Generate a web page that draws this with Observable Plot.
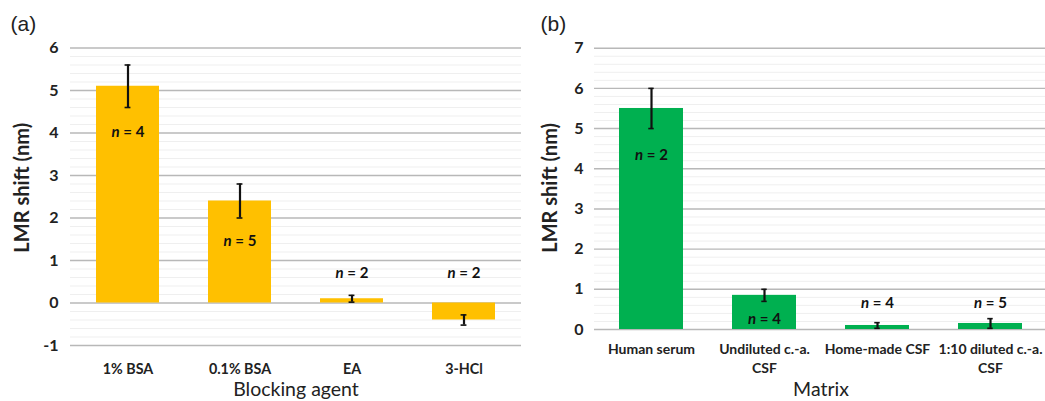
<!DOCTYPE html>
<html>
<head>
<meta charset="utf-8">
<script src="https://cdn.jsdelivr.net/npm/d3@7"></script>
<script src="https://cdn.jsdelivr.net/npm/@observablehq/plot@0.6"></script>
<style>
  html, body { margin: 0; padding: 0; background: #fff; overflow: hidden; }
  #wrap { display: flex; width: 1050px; height: 401px; }
  #wrap svg { overflow: visible; }
</style>
</head>
<body>
<div id="wrap"><div id="a"></div><div id="b"></div></div>
<script>
// ---- Panel (a): Blocking agent ----
const aCategories = ["1% BSA", "0.1% BSA", "EA", "3-HCl"];
const aValues = [5.1, 2.4, 0.1, -0.4];
const aErrors = [0.5, 0.4, 0.08, 0.12];
const aN = [4, 5, 2, 2];
const aNLabelAt = [4.03, 1.45, 0.69, 0.69];
const aTicks = [-1, 0, 1, 2, 3, 4, 5, 6];

// ---- Panel (b): Matrix ----
const bCategories = ["Human serum", "Undiluted c.-a.\nCSF", "Home-made CSF", "1:10 diluted c.-a.\nCSF"];
const bValues = [5.5, 0.85, 0.1, 0.15];
const bErrors = [0.5, 0.15, 0.07, 0.12];
const bN = [2, 4, 4, 5];
const bNLabelAt = [4.35, 0.25, 0.66, 0.66];
const bTicks = [0, 1, 2, 3, 4, 5, 6, 7];

const yTitle = "LMR shift (nm)";

function rows(cats, vals, errs, ns, at) {
  return cats.map((c, i) => ({cat: c, v: vals[i], lo: vals[i] - errs[i], hi: vals[i] + errs[i], n: ns[i], at: at[i]}));
}

function panel(opts) {
  const data = rows(opts.cats, opts.vals, opts.errs, opts.ns, opts.at);
  const [y0, y1] = opts.ydomain;
  const minor = d3.range(Math.round(y0 * 5), Math.round(y1 * 5) + 1).map(k => k / 5).filter(v => Math.abs(v - Math.round(v)) > 1e-6);
  const plotW = opts.width - opts.marginLeft - opts.marginRight;
  const step = plotW / opts.cats.length;
  const bw = step * (1 - opts.pad);
  const capInset = (bw - 6) / 2;
  const svg = Plot.plot({
    width: opts.width,
    height: 401,
    marginLeft: opts.marginLeft,
    marginRight: opts.marginRight,
    marginTop: opts.marginTop,
    marginBottom: opts.marginBottom,
    style: {fontFamily: "Lato, 'Open Sans', sans-serif", background: "white", color: "#222"},
    x: {domain: opts.cats, paddingInner: opts.pad, paddingOuter: opts.pad / 2, label: null},
    y: {domain: opts.ydomain, label: null},
    marks: [
      Plot.ruleY(minor, {stroke: "#efefef", strokeWidth: 1}),
      Plot.ruleY(opts.ticks, {stroke: "#b8b8b8", strokeWidth: 1.4}),
      Plot.barY(data, {x: "cat", y: "v", fill: opts.color}),
      Plot.ruleX(data, {x: "cat", y1: "lo", y2: "hi", stroke: "#111", strokeWidth: 2.2}),
      Plot.tickY(data, {x: "cat", y: "lo", stroke: "#111", strokeWidth: 1.6, insetLeft: capInset, insetRight: capInset}),
      Plot.tickY(data, {x: "cat", y: "hi", stroke: "#111", strokeWidth: 1.6, insetLeft: capInset, insetRight: capInset}),
      Plot.text(data, {x: "cat", y: "at", text: d => `n = ${d.n}`, fontSize: 15, fontWeight: "bold", fill: "#111"}),
      Plot.axisY(opts.ticks, {tickSize: 0, tickPadding: opts.yPad, fontSize: 16, fontWeight: "bold", label: null, tickFormat: d => String(d)}),
      Plot.axisX({tickSize: 0, tickPadding: opts.xPad, fontSize: opts.xFont, fontWeight: "bold", lineHeight: 1.3, label: null}),
      Plot.text([yTitle], {frameAnchor: "left", rotate: -90, textAnchor: "middle", lineAnchor: "middle", dx: opts.titleDx, dy: opts.titleDy, fontSize: 20, fontWeight: "bold", fill: "#222"}),
      Plot.text([opts.tag], {frameAnchor: "top-left", textAnchor: "start", lineAnchor: "middle", dx: opts.tagDx, dy: opts.tagDy, fontSize: 21, fontFamily: "'Liberation Sans', Arial, sans-serif", fill: "#222"}),
      Plot.text([opts.xTitle], {frameAnchor: "bottom", textAnchor: "middle", lineAnchor: "bottom", dy: opts.xTitleDy, fontSize: 19.5, fill: "#222"})
    ]
  });
  // italic "n" in the count labels
  d3.select(svg).selectAll("text").filter(function() { return /^n = \d+$/.test(this.textContent); }).each(function() {
    const t = this.textContent;
    this.textContent = "";
    d3.select(this).append("tspan").attr("font-style", "italic").text("n");
    d3.select(this).append("tspan").text(t.slice(1));
  });
  return svg;
}

document.getElementById("a").appendChild(panel({
  cats: aCategories, vals: aValues, errs: aErrors, ns: aN, at: aNLabelAt, ticks: aTicks,
  ydomain: [-1, 6], color: "#FFC000", width: 530, marginLeft: 70, marginRight: 9,
  marginTop: 47.5, marginBottom: 56, pad: 0.44, yPad: 12, xPad: 15, xFont: 14.3,
  titleDx: -48, titleDy: -9, tag: "(a)", tagDx: -60, tagDy: -24, xTitle: "Blocking agent", xTitleDy: 50
}));
document.getElementById("b").appendChild(panel({
  cats: bCategories, vals: bValues, errs: bErrors, ns: bN, at: bNLabelAt, ticks: bTicks,
  ydomain: [0, 7], color: "#00B050", width: 517, marginLeft: 64, marginRight: 0,
  marginTop: 47.7, marginBottom: 72, pad: 0.43, yPad: 11, xPad: 12, xFont: 14,
  titleDx: -44, titleDy: -1, tag: "(b)", tagDx: -54, tagDy: -24, xTitle: "Matrix", xTitleDy: 66
}));
</script>
</body>
</html>
